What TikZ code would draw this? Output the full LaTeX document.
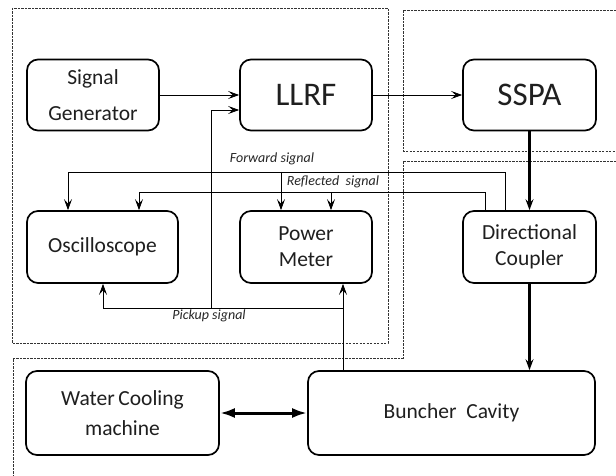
\documentclass[tikz,border=0pt]{standalone}
\usepackage{fontspec}
\setmainfont{Carlito}
\usetikzlibrary{arrows.meta}

\tikzset{
  block/.style={draw, line width=1.7pt, rounded corners=11pt, align=center,
    inner sep=0pt, text=black!88, font=\fontsize{21.5}{26}\selectfont},
  bigblock/.style={block, font=\fontsize{33}{36}\selectfont},
  dashbox/.style={draw=black!80, line width=0.7pt, dash pattern=on 2.2pt off 1.3pt},
  sig/.style={line width=0.8pt, -{Stealth[length=11pt,width=8pt,inset=4.5pt]}},
  sigline/.style={line width=0.8pt},
  power/.style={line width=2.6pt, -{Stealth[length=11pt,width=8pt,inset=4pt]}},
  coolant/.style={line width=3pt, {Latex[length=15pt,width=10pt]}-{Latex[length=15pt,width=10pt]}},
  tag/.style={font=\itshape\fontsize{14}{16}\selectfont, text=black!85, inner sep=0pt}
}

\begin{document}
\begin{tikzpicture}[x=1pt, y=-1pt]
  \fill[white] (0,0) rectangle (616,476);
  \useasboundingbox (0,0) rectangle (616,476);
  \clip (0,0) rectangle (616,476);

  % grouping frames
  \draw[dashbox] (12,8) rectangle (388,343);
  \draw[dashbox] (630,10) -| (403,151) -- (630,151);
  \draw[dashbox] (630,161) -| (403,358) -| (13,490);

  % blocks
  \node[block, minimum width=132pt, minimum height=71pt,
    font=\fontsize{21.5}{36}\selectfont] (sg) at (93,95) {Signal\\Generator};
  \node[bigblock, minimum width=132pt, minimum height=71pt] (llrf) at (306,95) {LLRF};
  \node[bigblock, minimum width=133pt, minimum height=71pt] (sspa) at (529.5,95) {SSPA};
  \node[block, minimum width=151pt, minimum height=72pt] (osc) at (102.5,247) {Oscilloscope};
  \node[block, minimum width=132pt, minimum height=72pt] (pm) at (306,247) {Power\\Meter};
  \node[block, minimum width=133pt, minimum height=72pt] (dc) at (529.5,247) {Directional\\Coupler};
  \node[block, minimum width=193pt, minimum height=84pt,
    font=\fontsize{21.5}{30}\selectfont] (wc) at (122.5,413) {Water\,Cooling\\machine};
  \node[block, minimum width=287pt, minimum height=84pt] (bc) at (451.5,413) {Buncher\ \ Cavity};

  % RF drive chain
  \draw[sig] (sg) -- (llrf);
  \draw[sig] (llrf) -- (sspa);
  \draw[power] (sspa.south -| dc.north) -- (dc.north);
  \draw[power] (dc.south) -- (dc.south |- bc.north);
  \draw[coolant] (wc.east) -- (bc.west);

  % forward signal from the coupler
  \coordinate (fwd) at ([xshift=-24.5pt]dc.north |- 0,172);
  \draw[sigline] ([xshift=-24.5pt]dc.north) -- (fwd);
  \draw[sig] (fwd) -| ([xshift=-34.5pt]osc.north);
  \draw[sig] ([xshift=-25pt]pm.north |- fwd) -- ([xshift=-25pt]pm.north);
  \node[tag] at (272,159) {Forward signal};

  % reflected signal from the coupler
  \coordinate (rfl) at ([xshift=-44.5pt]dc.north |- 0,192);
  \draw[sigline] ([xshift=-44.5pt]dc.north) -- (rfl);
  \draw[sig] (rfl) -| ([xshift=36.5pt]osc.north);
  \draw[sig] ([xshift=25pt]pm.north |- rfl) -- ([xshift=25pt]pm.north);
  \node[tag] at (333,182) {Reflected\ \ signal};

  % pickup signal from the cavity
  \coordinate (pk) at ([xshift=37pt]pm.south |- 0,308);
  \draw[sig] ([xshift=37pt]pm.south |- bc.north) -- ([xshift=37pt]pm.south);
  \draw[sig] (pk) -| ([xshift=0.5pt]osc.south);
  \draw[sig] (211,308) |- ([yshift=-15pt]llrf.west);
  \node[tag] at (209,316) {Pickup signal};
\end{tikzpicture}
\end{document}
